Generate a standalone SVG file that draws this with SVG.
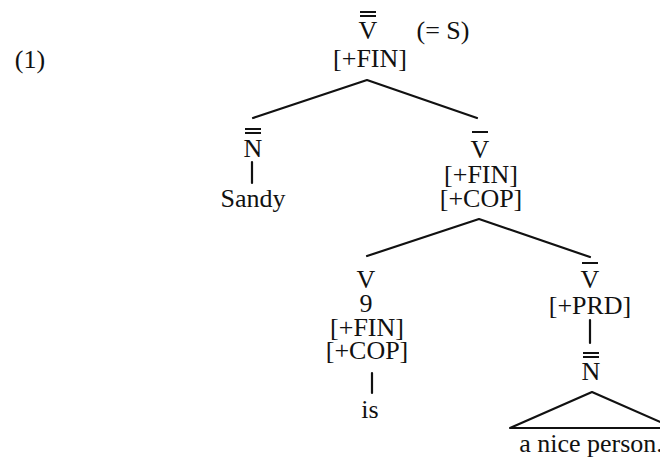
<svg xmlns="http://www.w3.org/2000/svg" width="660" height="458" viewBox="0 0 660 458">
<style>
text{font-family:"Liberation Serif","Times New Roman",serif;font-size:26px;fill:#111;text-anchor:middle}
.bar{stroke:#111;stroke-width:2}
.edge{stroke:#111;stroke-width:2.2;fill:none;stroke-linecap:round;stroke-linejoin:round}
</style>
<rect width="660" height="458" fill="#fff"/>
<text x="30" y="68">(1)</text>
<g id="connectors">
<polyline class="edge" points="253,118 367,80 477,118"/>
<line class="edge" x1="252" y1="162" x2="252" y2="183"/>
<polyline class="edge" points="367,256 479,219 590,257"/>
<line class="edge" x1="372" y1="373" x2="372" y2="393"/>
<line class="edge" x1="590" y1="320" x2="590" y2="343"/>
</g>
<g id="node-S">
<line class="bar" x1="360" y1="12" x2="376" y2="12"/>
<line class="bar" x1="360" y1="16" x2="376" y2="16"/>
<text x="368" y="39">V</text>
<text x="443" y="39">(= S)</text>
<text x="370" y="67">[+FIN]</text>
</g>
<g id="node-NP">
<line class="bar" x1="245" y1="129" x2="261" y2="129"/>
<line class="bar" x1="245" y1="133" x2="261" y2="133"/>
<text x="253" y="157">N</text>
</g>
<g id="node-Sandy">
<text x="253" y="207">Sandy</text>
</g>
<g id="node-VP">
<line class="bar" x1="472" y1="132" x2="488" y2="132"/>
<text x="480" y="158">V</text>
<text x="481" y="183">[+FIN]</text>
<text x="481" y="207">[+COP]</text>
</g>
<g id="node-V">
<text x="366" y="288">V</text>
<text x="366" y="312">9</text>
<text x="367" y="336">[+FIN]</text>
<text x="367" y="359">[+COP]</text>
</g>
<g id="node-is">
<text x="370" y="418">is</text>
</g>
<g id="node-PRD">
<line class="bar" x1="582" y1="263" x2="598" y2="263"/>
<text x="590" y="288">V</text>
<text x="590" y="314">[+PRD]</text>
</g>
<g id="node-NP2">
<line class="bar" x1="583" y1="353" x2="599" y2="353"/>
<line class="bar" x1="583" y1="357" x2="599" y2="357"/>
<text x="591" y="380">N</text>
</g>
<g id="node-triangle">
<polygon class="edge" points="510,428 592,392 674,428"/>
<text x="591" y="452">a nice person.</text>
</g>
</svg>
